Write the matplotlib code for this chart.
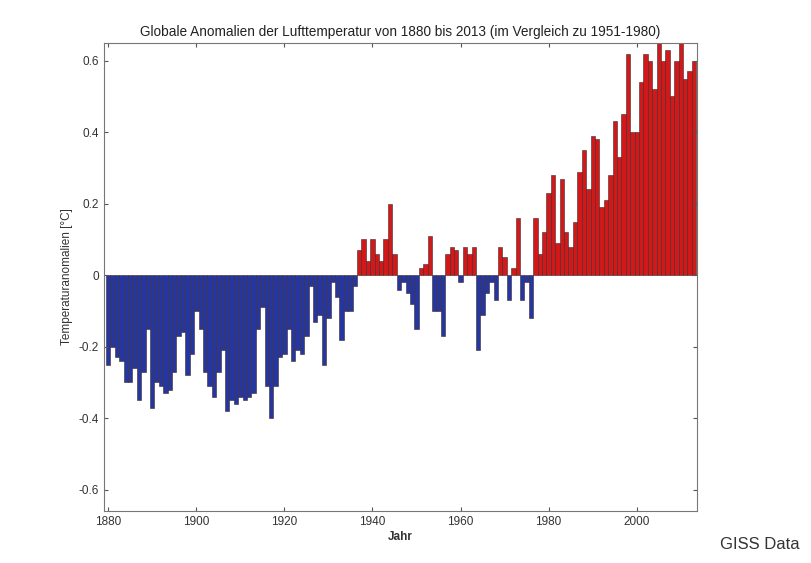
import numpy as np
import matplotlib.pyplot as plt

plt.rcParams['font.family'] = ['Liberation Sans', 'DejaVu Sans']

years = np.arange(1880, 2014)
anomalies = [
    -0.25, -0.20, -0.23, -0.24, -0.30, -0.30, -0.26, -0.35, -0.27, -0.15,  # 1880s
    -0.37, -0.30, -0.31, -0.33, -0.32, -0.27, -0.17, -0.16, -0.28, -0.22,  # 1890s
    -0.10, -0.15, -0.27, -0.31, -0.34, -0.27, -0.21, -0.38, -0.35, -0.36,  # 1900s
    -0.34, -0.35, -0.34, -0.33, -0.15, -0.09, -0.31, -0.40, -0.31, -0.23,  # 1910s
    -0.22, -0.15, -0.24, -0.21, -0.22, -0.17, -0.03, -0.13, -0.11, -0.25,  # 1920s
    -0.12, -0.02, -0.06, -0.18, -0.10, -0.10, -0.03, 0.07, 0.10, 0.04,     # 1930s
    0.10, 0.06, 0.04, 0.10, 0.20, 0.06, -0.04, -0.02, -0.05, -0.08,        # 1940s
    -0.15, 0.02, 0.03, 0.11, -0.10, -0.10, -0.17, 0.06, 0.08, 0.07,        # 1950s
    -0.02, 0.08, 0.06, 0.08, -0.21, -0.11, -0.05, -0.02, -0.07, 0.08,      # 1960s
    0.05, -0.07, 0.02, 0.16, -0.07, -0.02, -0.12, 0.16, 0.06, 0.12,        # 1970s
    0.23, 0.28, 0.09, 0.27, 0.12, 0.08, 0.15, 0.29, 0.35, 0.24,            # 1980s
    0.39, 0.38, 0.19, 0.21, 0.28, 0.43, 0.33, 0.45, 0.62, 0.40,            # 1990s
    0.40, 0.54, 0.62, 0.60, 0.52, 0.66, 0.60, 0.63, 0.50, 0.60,            # 2000s
    0.66, 0.55, 0.57, 0.60,                                                # 2010s
]
x_ticks = [1880, 1900, 1920, 1940, 1960, 1980, 2000]
y_ticks = [-0.6, -0.4, -0.2, 0, 0.2, 0.4, 0.6]
y_labels = ['-0.6', '-0.4', '-0.2', '0', '0.2', '0.4', '0.6']

anomalies = np.array(anomalies)
colors = np.where(anomalies >= 0, '#d21818', '#2536a0')

fig = plt.figure(figsize=(8.11, 5.63), dpi=100)
ax = fig.add_axes([0.128, 0.092, 0.731, 0.832])

ax.bar(years, anomalies, width=1.0, color=colors, edgecolor='#3a2a2a', linewidth=0.4)

ax.set_xlim(1879.0, 2013.6)
ax.set_ylim(-0.66, 0.65)
ax.set_xticks(x_ticks)
ax.set_yticks(y_ticks)
ax.set_yticklabels(y_labels)
ax.tick_params(direction='in', top=True, right=True, labelsize=8.5, length=3,
               color='#555555', labelcolor='#333333')
for s in ax.spines.values():
    s.set_color('#777777')
    s.set_linewidth(0.8)

ax.set_title('Globale Anomalien der Lufttemperatur von 1880 bis 2013 (im Vergleich zu 1951-1980)',
             fontsize=9.8, color='#222222', pad=5)
ax.set_xlabel('Jahr', fontsize=8.5, color='#333333', fontweight='bold', labelpad=2)
ax.set_ylabel('Temperaturanomalien [°C]', fontsize=8.5, color='#333333', labelpad=4)

fig.text(0.888, 0.032, 'GISS Data', fontsize=12, color='#333333', va='center')

fig.savefig('out.png', dpi=100)
